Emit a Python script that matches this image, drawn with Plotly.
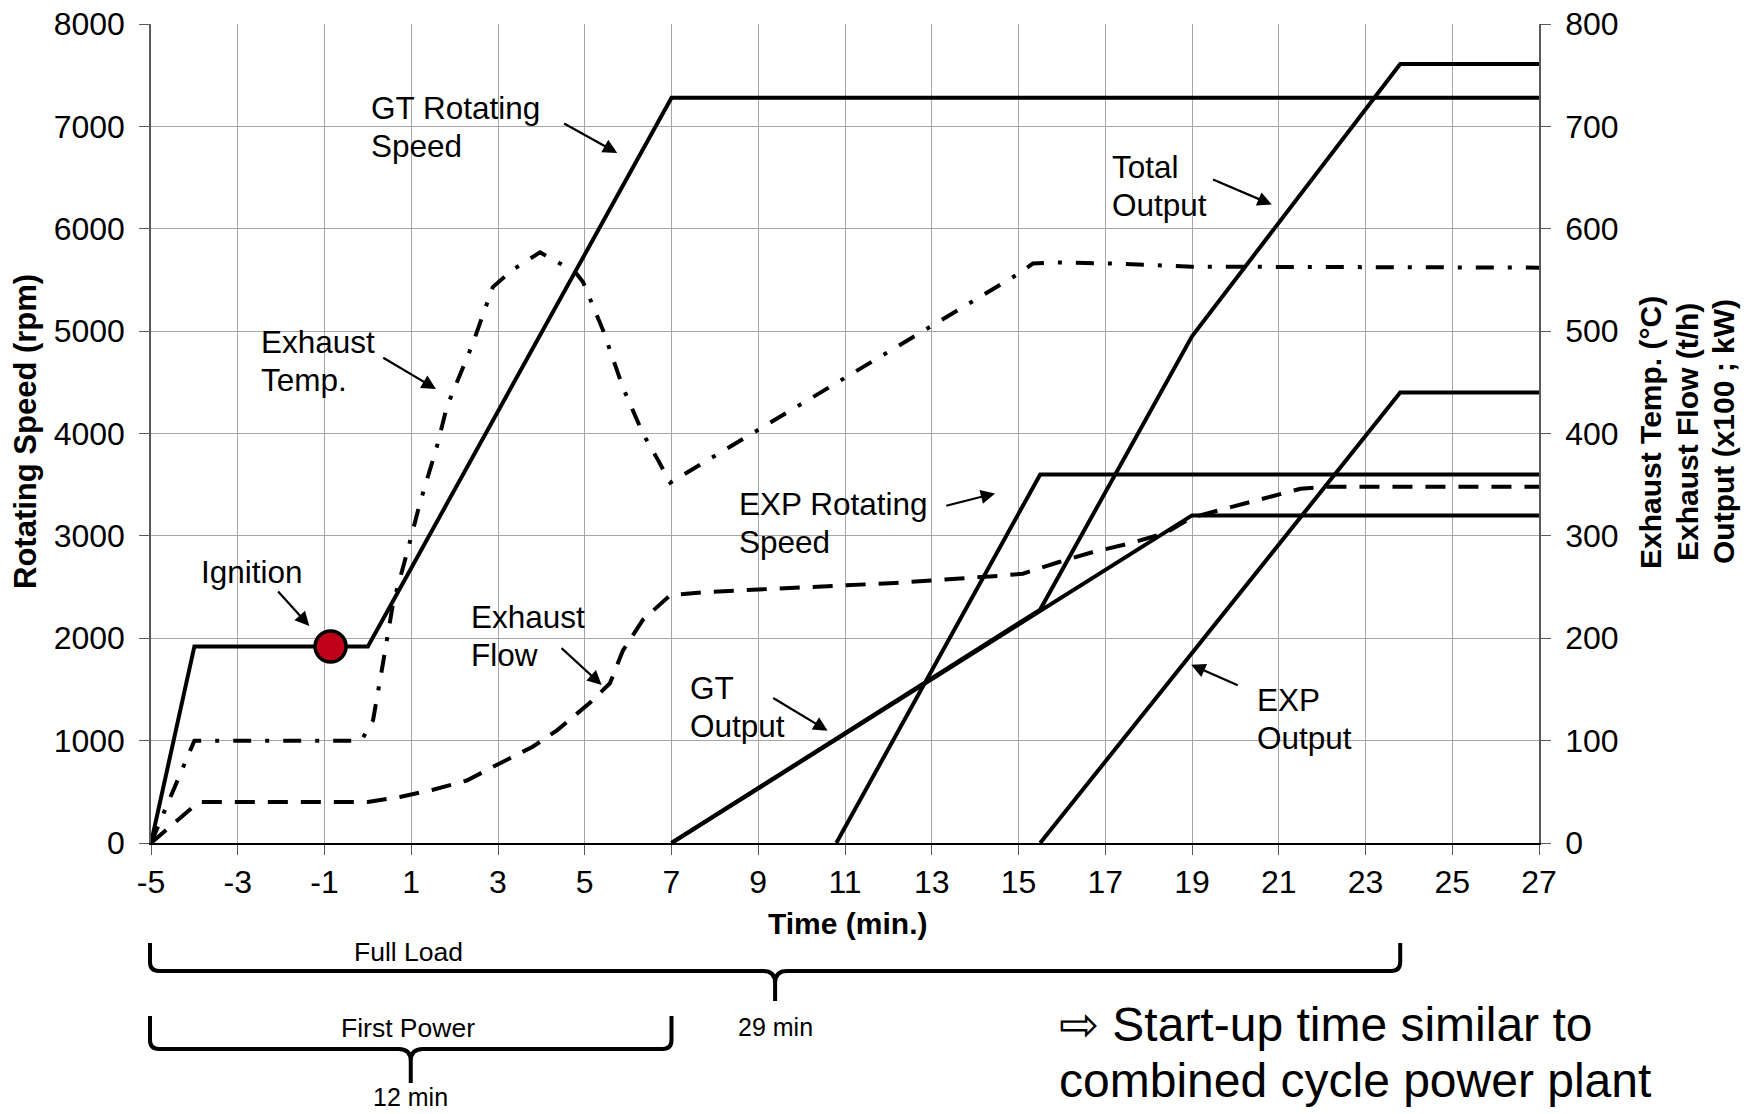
import plotly.graph_objects as go

# ---------------- data ----------------
time_ticks = list(range(-5, 28, 2))
rpm_ticks = list(range(0, 8001, 1000))
right_ticks = list(range(0, 801, 100))

# left axis: rotating speed (rpm)
gt_speed_t = [-5, -4, 0, 7, 27]
gt_speed_rpm = [0, 1920, 1920, 7280, 7280]

exp_speed_t = [10.8, 15.5, 27]
exp_speed_rpm = [0, 3600, 3600]

ignition_t = [-0.86]
ignition_rpm = [1920]

# right axis: exhaust temp (C), exhaust flow (t/h), output (x100 kW)
exh_temp_t = [-5, -4, -0.15, 0.12, 0.35, 0.58, 0.9, 1.2, 1.59, 1.82, 2.42, 2.88,
              3.34, 3.74, 3.97, 4.43, 4.81, 4.96, 5.19, 5.42, 5.88, 6.34, 6.69,
              6.97, 14.96, 15.33, 15.9, 17.27, 19, 27]
exh_temp_c = [0, 100, 100, 120, 176, 234, 283, 332, 387, 426, 488, 543,
              560, 571, 577, 566, 556, 548, 525, 501, 445, 400, 374,
              352, 555, 566, 567, 566, 563, 562]

exh_flow_t = [-5, -3.9, 0, 0.74, 1.5, 2.28, 3.05, 3.8, 4.36, 5.12, 5.58, 5.88,
              6.34, 6.97, 7.73, 12.15, 14.56, 15.1, 15.9, 16.7, 17.6, 18.4,
              19.0, 19.7, 20.7, 21.5, 22.1, 27]
exh_flow_th = [0, 40, 40, 45, 52, 61, 78, 94, 110, 137, 156, 188,
               218, 242, 245, 254, 261, 263, 274, 284, 293, 303,
               318, 326, 337, 346, 348, 348]

gt_out_t = [7, 19, 27]
gt_out = [0, 320, 320]

exp_out_t = [15.5, 23.8, 27]
exp_out = [0, 440, 440]

total_out_t = [7, 15.5, 19, 23.8, 27]
total_out = [0, 228, 495, 761, 761]

# start-up milestones (min)
milestone_start = -5
milestone_ends = [23.8, 7]
milestone_labels = ["Full Load", "First Power"]
milestone_durations = ["29 min", "12 min"]

# ---------------- layout geometry ----------------
W, H = 1754, 1114
L, R, T, B = 151, 1539, 24, 843
XMIN, XMAX = -5, 27
FONT = "Arial, Liberation Sans, Helvetica, sans-serif"


def pxx(X):
    return (X - L) / (R - L)


def pxy(Y):
    return (B - Y) / (B - T)


def data_px(x):
    return L + (x - XMIN) / (XMAX - XMIN) * (R - L)


fig = go.Figure()

line_kw = dict(color="black", width=4)

fig.add_trace(go.Scatter(x=gt_speed_t, y=gt_speed_rpm, mode="lines", line=line_kw, yaxis="y"))
fig.add_trace(go.Scatter(x=exp_speed_t, y=exp_speed_rpm, mode="lines", line=line_kw, yaxis="y"))

fig.add_trace(go.Scatter(x=exh_temp_t, y=exh_temp_c, mode="lines",
                         line=dict(color="black", width=4, dash="18px,14px,4px,14px"), yaxis="y2"))
fig.add_trace(go.Scatter(x=exh_flow_t, y=exh_flow_th, mode="lines",
                         line=dict(color="black", width=4, dash="20px,13px"), yaxis="y2"))
fig.add_trace(go.Scatter(x=gt_out_t, y=gt_out, mode="lines", line=line_kw, yaxis="y2"))
fig.add_trace(go.Scatter(x=exp_out_t, y=exp_out, mode="lines", line=line_kw, yaxis="y2"))
fig.add_trace(go.Scatter(x=total_out_t, y=total_out, mode="lines", line=line_kw, yaxis="y2"))

fig.add_trace(go.Scatter(x=ignition_t, y=ignition_rpm, mode="markers", yaxis="y",
                         marker=dict(size=31, color="#C00018", line=dict(color="black", width=3.5))))

annotations = []

# curve labels (left-aligned text, one annotation per line)
LINE_H = 38
labels = [
    (["GT Rotating", "Speed"], 0.03, 6992),
    (["Exhaust", "Temp."], -2.52, 4712),
    (["Ignition"], -3.89, 2652),
    (["Exhaust", "Flow"], 2.32, 2021),
    (["EXP Rotating", "Speed"], 8.50, 3130),
    (["GT", "Output"], 7.38, 1326),
    (["EXP", "Output"], 20.45, 1216),
    (["Total", "Output"], 17.12, 6422),
]
for lines, x, y in labels:
    n = len(lines)
    for i, txt in enumerate(lines):
        shift = ((n - 1) / 2 - i) * LINE_H
        annotations.append(dict(text=txt, x=x, y=y, yshift=shift, xref="x", yref="y",
                                xanchor="left", yanchor="middle", align="left", showarrow=False,
                                font=dict(family=FONT, size=31.5, color="black")))

# arrows: (head x, head y, tail x, tail y)
arrows = [
    (5.75, 6740, 4.49, 7036),
    (1.57, 4434, 0.32, 4749),
    (-1.35, 2119, -2.10, 2471),
    (5.39, 1543, 4.43, 1917),
    (14.46, 3415, 13.30, 3291),
    (10.60, 1096, 9.31, 1425),
    (18.98, 1742, 20.09, 1534),
    (20.84, 6236, 19.45, 6488),
]
for hx, hy, tx, ty in arrows:
    annotations.append(dict(text="", x=hx, y=hy, ax=tx, ay=ty, xref="x", yref="y", axref="x", ayref="y",
                            showarrow=True, arrowhead=2, arrowsize=1.3, arrowwidth=2.2,
                            arrowcolor="black", standoff=0, startstandoff=0))


def paper_text(txt, X, Y, size, bold=False, angle=0, xanchor="center"):
    return dict(text=f"<b>{txt}</b>" if bold else txt, x=pxx(X), y=pxy(Y), xref="paper", yref="paper",
                xanchor=xanchor, yanchor="middle", textangle=angle, showarrow=False,
                font=dict(family=FONT, size=size, color="black"))


# axis titles
annotations.append(paper_text("Rotating Speed (rpm)", 25, 432, 31, bold=True, angle=-90))
right_title = ["Exhaust Temp. (°C)", "Exhaust Flow (t/h)", "Output (x100 ; kW)"]
for txt, X in zip(right_title, [1650, 1687, 1723]):
    annotations.append(paper_text(txt, X, 432, 30, bold=True, angle=-90))
annotations.append(paper_text("Time (min.)", 847, 923, 30, bold=True))

# milestone braces below the axis
shapes = []


def P(X, Y):
    return f"{pxx(X):.5f},{pxy(Y):.5f}"


def brace_path(X0, X1, ytop, ybar, ytip, r=9, c=12):
    XM = (X0 + X1) / 2
    d = (f"M{P(X0, ytop)} L{P(X0, ybar - r)} Q{P(X0, ybar)} {P(X0 + r, ybar)} "
         f"L{P(XM - c, ybar)} Q{P(XM, ybar)} {P(XM, ybar + c)} L{P(XM, ytip)} "
         f"M{P(XM, ybar + c)} Q{P(XM, ybar)} {P(XM + c, ybar)} "
         f"L{P(X1 - r, ybar)} Q{P(X1, ybar)} {P(X1, ybar - r)} L{P(X1, ytop)}")
    return d, XM


brace_rows = [(943, 971, 1001, 952, 1027), (1016, 1049, 1083, 1028, 1097)]
for end, lab, dur, (ytop, ybar, ytip, ylab, ydur) in zip(milestone_ends, milestone_labels,
                                                           milestone_durations, brace_rows):
    X0 = data_px(milestone_start) - 1
    X1 = data_px(end)
    d, XM = brace_path(X0, X1, ytop, ybar, ytip)
    shapes.append(dict(type="path", path=d, xref="paper", yref="paper",
                       line=dict(color="black", width=4)))
    annotations.append(paper_text(lab, 408, ylab, 26.5))
    annotations.append(paper_text(dur, XM, ydur, 25))

annotations.append(paper_text("⇨ Start-up time similar to", 1057, 1024, 48, xanchor="left"))
annotations.append(paper_text("combined cycle power plant", 1057, 1080, 48, xanchor="left"))

GRID = "#A6A6A6"
AXIS = "#595959"
tickfont = dict(family=FONT, size=32, color="black")

fig.update_layout(
    width=W, height=H,
    margin=dict(l=L, r=W - R, t=T, b=H - B, pad=0, autoexpand=False),
    paper_bgcolor="white", plot_bgcolor="white",
    showlegend=False,
    xaxis=dict(range=[XMIN, XMAX], tickvals=time_ticks, ticktext=[str(v) for v in time_ticks],
               showgrid=True, gridcolor=GRID, gridwidth=1.2,
               showline=True, linecolor="black", linewidth=2, zeroline=False,
               ticks="outside", ticklen=10, tickwidth=1.2, tickcolor=AXIS,
               tickfont=tickfont, ticklabelstandoff=0),
    yaxis=dict(range=[0, 8000], tickvals=rpm_ticks, showgrid=True, gridcolor=GRID, gridwidth=1.2,
               showline=True, linecolor=AXIS, linewidth=1.5, zeroline=False,
               ticks="outside", ticklen=10, tickwidth=1.2, tickcolor=AXIS,
               tickfont=tickfont, ticklabelstandoff=8),
    yaxis2=dict(range=[0, 800], tickvals=right_ticks, overlaying="y", side="right", showgrid=False,
                showline=True, linecolor=AXIS, linewidth=1.5, zeroline=False,
                ticks="outside", ticklen=10, tickwidth=1.2, tickcolor=AXIS,
                tickfont=tickfont, ticklabelstandoff=8),
    annotations=annotations,
    shapes=shapes,
)

fig.write_html("out.html", config={"displayModeBar": False},
               post_script="document.body.style.margin='0';document.body.style.overflow='hidden';")
